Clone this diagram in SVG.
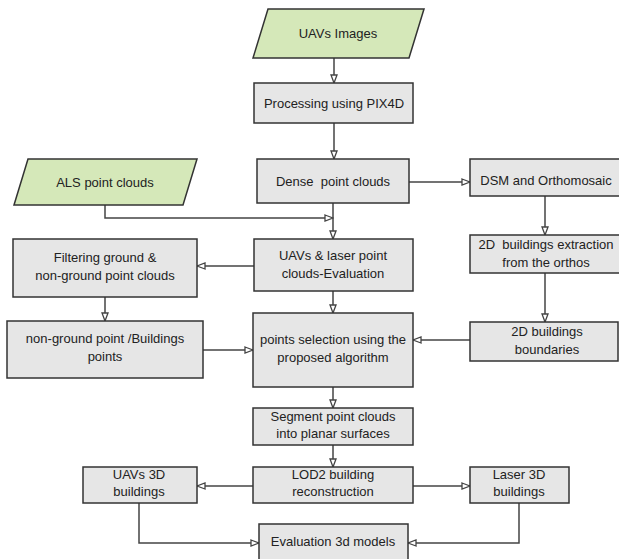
<svg xmlns="http://www.w3.org/2000/svg" width="619" height="559" viewBox="0 0 619 559">
<style>
.box{fill:#e6e6e6;stroke:#333;stroke-width:1.5}
.io{fill:#d5e8b9;stroke:#333;stroke-width:1.5}
.t{font-family:"Liberation Sans",Arial,sans-serif;font-size:13px;fill:#222;text-anchor:middle}
.c{fill:none;stroke:#444;stroke-width:1.5}
</style>
<defs>
<marker id="ah" markerUnits="userSpaceOnUse" markerWidth="10" markerHeight="8" viewBox="0 0 10 8" refX="9" refY="4" orient="auto">
<path d="M1,1 L9,4 L1,7 z" fill="#fff" stroke="#444" stroke-width="1.3"/>
</marker>
</defs>
<rect width="619" height="559" fill="#fff"/>
<g id="connectors">
<path class="c" d="M334,58 V83" marker-end="url(#ah)"/>
<path class="c" d="M334,123 V159" marker-end="url(#ah)"/>
<path class="c" d="M333,203 V239" marker-end="url(#ah)"/>
<path class="c" d="M105,205 V218 H333" marker-end="url(#ah)"/>
<path class="c" d="M409,182 H470" marker-end="url(#ah)"/>
<path class="c" d="M545,196 V235" marker-end="url(#ah)"/>
<path class="c" d="M254,266 H197" marker-end="url(#ah)"/>
<path class="c" d="M105,297 V321" marker-end="url(#ah)"/>
<path class="c" d="M333,291 V313" marker-end="url(#ah)"/>
<path class="c" d="M545,273 V322" marker-end="url(#ah)"/>
<path class="c" d="M203,350 H253" marker-end="url(#ah)"/>
<path class="c" d="M470,340 H413" marker-end="url(#ah)"/>
<path class="c" d="M333,387 V408" marker-end="url(#ah)"/>
<path class="c" d="M333,445 V467" marker-end="url(#ah)"/>
<path class="c" d="M253,486 H197" marker-end="url(#ah)"/>
<path class="c" d="M413,486 H470" marker-end="url(#ah)"/>
<path class="c" d="M139,503 V543 H259" marker-end="url(#ah)"/>
<path class="c" d="M519,503 V543 H408" marker-end="url(#ah)"/>
</g>
<g id="uavs-images">
<polygon class="io" points="268,9 424,9 409,58 253,58"/>
<text class="t" x="338" y="38">UAVs Images</text>
</g>
<g id="processing">
<rect class="box" x="254" y="83" width="159" height="40"/>
<text class="t" x="334" y="108">Processing using PIX4D</text>
</g>
<g id="dense">
<rect class="box" x="257" y="159" width="152" height="44"/>
<text class="t" x="333" y="186" xml:space="preserve">Dense  point clouds</text>
</g>
<g id="als">
<polygon class="io" points="28,159 197,159 183,205 14,205"/>
<text class="t" x="105" y="187">ALS point clouds</text>
</g>
<g id="dsm">
<rect class="box" x="470" y="159" width="160" height="37"/>
<text class="t" x="546" y="185">DSM and Orthomosaic</text>
</g>
<g id="eval-uav-laser">
<rect class="box" x="254" y="239" width="159" height="52"/>
<text class="t" x="333" y="260">UAVs &amp; laser point</text>
<text class="t" x="333" y="278">clouds-Evaluation</text>
</g>
<g id="filtering">
<rect class="box" x="13" y="239" width="184" height="58"/>
<text class="t" x="105" y="262">Filtering ground &amp;</text>
<text class="t" x="105" y="280">non-ground point clouds</text>
</g>
<g id="extraction">
<rect class="box" x="470" y="235" width="160" height="38"/>
<text class="t" x="546" y="249" xml:space="preserve">2D  buildings extraction</text>
<text class="t" x="546" y="267">from the orthos</text>
</g>
<g id="nonground">
<rect class="box" x="7" y="321" width="196" height="57"/>
<text class="t" x="105" y="343">non-ground point /Buildings</text>
<text class="t" x="105" y="361">points</text>
</g>
<g id="selection">
<rect class="box" x="253" y="313" width="160" height="74"/>
<text class="t" x="333" y="344">points selection using the</text>
<text class="t" x="333" y="362">proposed algorithm</text>
</g>
<g id="boundaries">
<rect class="box" x="470" y="322" width="148" height="39"/>
<text class="t" x="547" y="336">2D buildings</text>
<text class="t" x="547" y="354">boundaries</text>
</g>
<g id="segment">
<rect class="box" x="253" y="408" width="160" height="37"/>
<text class="t" x="333" y="421">Segment point clouds</text>
<text class="t" x="333" y="438">into planar surfaces</text>
</g>
<g id="lod2">
<rect class="box" x="253" y="467" width="160" height="36"/>
<text class="t" x="333" y="479">LOD2 building</text>
<text class="t" x="333" y="496">reconstruction</text>
</g>
<g id="uav3d">
<rect class="box" x="83" y="467" width="114" height="36"/>
<text class="t" x="139" y="479">UAVs 3D</text>
<text class="t" x="139" y="496">buildings</text>
</g>
<g id="laser3d">
<rect class="box" x="470" y="467" width="99" height="36"/>
<text class="t" x="519" y="479">Laser 3D</text>
<text class="t" x="519" y="496">buildings</text>
</g>
<g id="evaluation">
<rect class="box" x="259" y="524" width="149" height="40"/>
<text class="t" x="333" y="546">Evaluation 3d models</text>
</g>
</svg>
